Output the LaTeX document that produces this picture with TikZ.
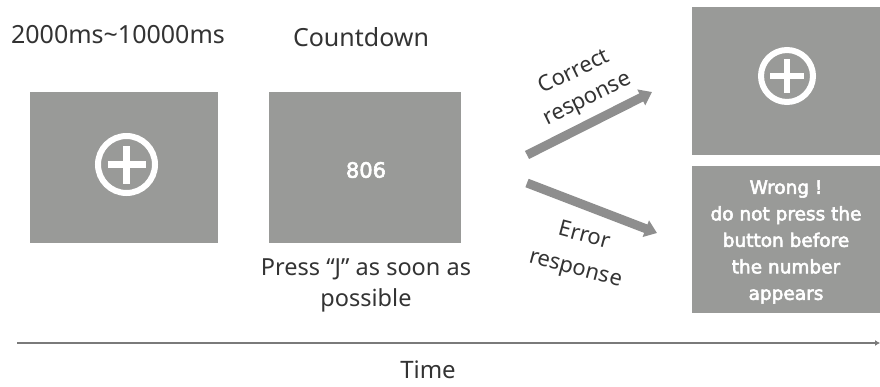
\documentclass[tikz,border=0pt]{standalone}
\usepackage{fontspec}
\setmainfont{Noto Sans}[AutoFakeBold=2.5]
\newfontfamily\heavy{DejaVu Sans}[AutoFakeBold=3]
\usetikzlibrary{arrows.meta}
\definecolor{screen}{HTML}{999A98}
\definecolor{ink}{HTML}{333333}
\definecolor{flow}{HTML}{8E8E8E}
\definecolor{axis}{HTML}{7A7A7A}
\tikzset{
  screenbox/.style={fill=screen, draw=none, inner sep=0pt},
  label/.style={text=ink, inner sep=0pt, align=center},
  ring/.style={circle, draw=white, line width=6pt, inner sep=0pt},
  crossbar/.style={draw=white, line width=6.5pt},
  flowarrow/.style={draw=flow, line width=9pt, -{Triangle[width=17pt,length=12pt]}},
}
\begin{document}
\begin{tikzpicture}[x=1pt, y=-1pt]
  \useasboundingbox (0,0) rectangle (880,386);

  % stimulus screens
  \node[screenbox, minimum width=188pt, minimum height=151pt] (wait) at (124,167.5) {};
  \node[screenbox, minimum width=192pt, minimum height=151pt] (count) at (365,167.5) {};
  \node[screenbox, minimum width=188pt, minimum height=148pt] (good) at (786,81) {};
  \node[screenbox, minimum width=188pt, minimum height=147pt] (bad) at (786,239.5) {};

  % fixation marks
  \node[ring, minimum size=57pt] (fixa) at (126.5,164.5) {};
  \draw[crossbar] ([xshift=-19pt]fixa.center) -- ([xshift=19pt]fixa.center);
  \draw[crossbar] ([yshift=-19pt]fixa.center) -- ([yshift=19pt]fixa.center);
  \node[ring, minimum size=52pt] (fixb) at (787,76) {};
  \draw[crossbar] ([xshift=-17pt]fixb.center) -- ([xshift=17pt]fixb.center);
  \draw[crossbar] ([yshift=-17pt]fixb.center) -- ([yshift=17pt]fixb.center);

  % screen texts
  \node[label, text=white, font=\heavy\bfseries\fontsize{21}{24}\selectfont] (num) at (366,170) {806};
  \node[label, text=white, font=\heavy\bfseries\fontsize{18.5}{26.5}\selectfont] (warn) at (786,242)
    {Wrong~!\\do not press the\\button before\\the number\\appears};

  % captions
  \node[label, font=\fontsize{25}{30}\selectfont] (dur) at (118,35) {2000ms\char"007E 10000ms};
  \node[label, font=\fontsize{25}{30}\selectfont] (cd) at (361,37) {Countdown};
  \node[label, font=\fontsize{23.5}{31}\selectfont] (press) at (366,285)
    {Press “J” as soon as\\possible};

  % response branches
  \coordinate (ca) at (527,155);
  \coordinate (cb) at (652,92);
  \coordinate (ea) at (527,183);
  \coordinate (eb) at (657,233);
  \draw[flowarrow] (ca) -- (cb);
  \draw[flowarrow] (ea) -- (eb);
  \node[label, rotate=26, font=\fontsize{22}{30}\selectfont] (cr) at (581,86) {Correct\\response};
  \node[label, rotate=-15, font=\fontsize{22}{34}\selectfont] (er) at (580,253) {Error\\response};

  % time axis
  \coordinate (t0) at (17,343);
  \coordinate (t1) at (880,343);
  \draw[draw=axis, line width=2pt, -{Latex[length=5pt,width=6pt]}] (t0) -- (t1);
  \node[label, font=\fontsize{24}{28}\selectfont] (time) at (428,370) {Time};
\end{tikzpicture}
\end{document}
